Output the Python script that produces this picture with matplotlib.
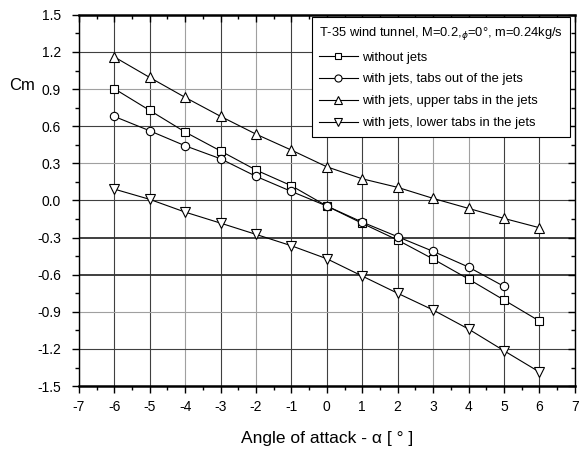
import matplotlib
matplotlib.use("Agg")
import matplotlib.pyplot as plt
from matplotlib.ticker import MultipleLocator, FuncFormatter

plt.rcParams['font.family'] = ['Liberation Sans', 'DejaVu Sans']
plt.rcParams['axes.unicode_minus'] = False

alpha = [-6, -5, -4, -3, -2, -1, 0, 1, 2, 3, 4, 5, 6]
alpha_tabs_out = [-6, -5, -4, -3, -2, -1, 0, 1, 2, 3, 4, 5]

cm_without = [0.903, 0.728, 0.553, 0.40, 0.246, 0.119, -0.045, -0.185, -0.32, -0.473, -0.635, -0.804, -0.974]
cm_tabs_out = [0.679, 0.563, 0.442, 0.337, 0.195, 0.073, -0.045, -0.175, -0.293, -0.411, -0.538, -0.694]
cm_upper = [1.16, 0.994, 0.833, 0.68, 0.536, 0.407, 0.272, 0.175, 0.106, 0.017, -0.064, -0.145, -0.22]
cm_lower = [0.092, 0.009, -0.094, -0.183, -0.274, -0.366, -0.471, -0.611, -0.75, -0.885, -1.039, -1.214, -1.386]

labels = ["without jets", "with jets, tabs out of the jets",
          "with jets, upper tabs in the jets", "with jets, lower tabs in the jets"]
legend_title = "T-35 wind tunnel, M=0.2,$_\\phi$=0°, m=0.24kg/s"

fig = plt.figure(figsize=(5.8, 4.5), dpi=100)
ax = fig.add_axes([0.136, 0.142, 0.855, 0.825])

base = dict(color='black', lw=0.8, markerfacecolor='white', markeredgecolor='black', markeredgewidth=0.8)
ax.plot(alpha, cm_without, marker='s', markersize=5.5, label=labels[0], **base)
ax.plot(alpha_tabs_out, cm_tabs_out, marker='o', markersize=6, label=labels[1], **base)
ax.plot(alpha, cm_upper, marker='^', markersize=7, label=labels[2], **base)
ax.plot(alpha, cm_lower, marker='v', markersize=7, label=labels[3], **base)

ax.set_xlim(-7, 7)
ax.set_ylim(-1.5, 1.5)
ax.xaxis.set_major_locator(MultipleLocator(1))
ax.xaxis.set_minor_locator(MultipleLocator(0.5))
ax.yaxis.set_major_locator(MultipleLocator(0.3))
ax.yaxis.set_minor_locator(MultipleLocator(0.15))
ax.yaxis.set_major_formatter(FuncFormatter(lambda v, p: "0.0" if abs(v) < 1e-9 else f"{v:.1f}"))

ax.grid(True, which='major', color='#404040', lw=0.8)
ax.set_axisbelow(True)

# scanned-look grid shading: some lines lighter, some heavier
light_x = {-4, -2, 3, 4}
light_y = {0.9, 0.3, -0.9}
heavy_y = {-0.3, -0.6}
fig.canvas.draw()
for t in ax.xaxis.get_major_ticks():
    loc = t.get_loc()
    if loc is not None and any(abs(loc - v) < 1e-6 for v in light_x):
        t.gridline.set_color('#a0a0a0')
for t in ax.yaxis.get_major_ticks():
    loc = t.get_loc()
    if loc is None:
        continue
    if any(abs(loc - v) < 1e-6 for v in light_y):
        t.gridline.set_color('#a0a0a0')
    elif any(abs(loc - v) < 1e-6 for v in heavy_y):
        t.gridline.set_color('#303030')
        t.gridline.set_linewidth(1.3)

ax.tick_params(axis='both', which='both', labelsize=10, colors='black')
ax.tick_params(axis='x', which='major', direction='out', length=5, width=1, top=True, pad=5)
ax.tick_params(axis='x', which='minor', direction='out', length=3, width=1, top=True)
ax.tick_params(axis='y', which='major', direction='out', length=5, width=1, right=True, pad=8)
ax.tick_params(axis='y', which='minor', direction='out', length=3, width=1, right=True)
for t in ax.xaxis.get_major_ticks() + ax.xaxis.get_minor_ticks():
    t.tick2line.set_marker(3)
for t in ax.yaxis.get_major_ticks() + ax.yaxis.get_minor_ticks():
    t.tick2line.set_marker(0)

for s in ['top', 'bottom']:
    ax.spines[s].set_linewidth(1.8)
for s in ['left', 'right']:
    ax.spines[s].set_linewidth(1.0)

ax.set_xlabel("Angle of attack - α [ ° ]", fontsize=12.5, labelpad=12)
fig.text(0.038, 0.811, "Cm", fontsize=12, ha='center', va='center')

leg = ax.legend(title=legend_title, loc='upper right', bbox_to_anchor=(0.99, 0.993),
                fontsize=9.4, title_fontsize=9.3, frameon=True, fancybox=False,
                edgecolor='black', framealpha=1, handlelength=3.0, handletextpad=0.3,
                labelspacing=0.75, borderpad=0.55, borderaxespad=0, markerscale=0.85)
leg.get_frame().set_linewidth(0.8)
leg._legend_box.align = 'left'

fig.savefig("out.png", dpi=100)
